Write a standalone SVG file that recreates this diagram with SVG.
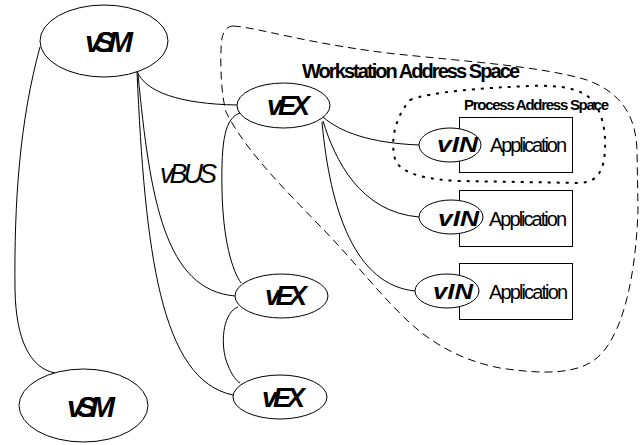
<svg xmlns="http://www.w3.org/2000/svg" width="643" height="445" viewBox="0 0 643 445">
<style>
.node{fill:#fff;stroke:#000;stroke-width:1}
.box{fill:#fff;stroke:#000;stroke-width:1}
.lbl{font-family:"Liberation Sans",Arial,sans-serif;font-weight:bold;font-style:italic;fill:#000}
.app{font-family:"Liberation Sans",Arial,sans-serif;font-size:20px;fill:#000}
.bus{font-family:"Liberation Sans",Arial,sans-serif;font-style:italic;font-size:27px;fill:#000}
.area{font-family:"Liberation Sans",Arial,sans-serif;font-weight:bold;fill:#000}
.conn path{fill:none;stroke:#000;stroke-width:1}
.ws{fill:none;stroke:#000;stroke-width:1;stroke-dasharray:8 5}
.ps{fill:none;stroke:#000;stroke-width:2;stroke-dasharray:3 6}
</style>
<rect width="643" height="445" fill="#fff"/>
<path class="ws" d="M233,26 C260,28 300,42 387,53 C470,62 540,66 587,80 C620,92 636,115 637,150 L638,210 C636,270 625,330 600,355 C580,376 540,374 500,368 C470,362 440,350 410,323 C380,295 355,262 322,228 C285,190 245,150 226,112 C220,90 220,50 222,38 C224,30 228,26 233,26 Z"/>
<path class="ps" d="M410,100 C430,92 480,88 530,86 C560,85 580,88 592,100 C602,112 606,130 605,150 C604,170 598,182 580,183 L460,181 C430,180 405,175 396,162 C390,145 393,120 410,100 Z"/>
<text class="area" x="302" y="78" font-size="20" textLength="218" lengthAdjust="spacing">Workstation Address Space</text>
<text class="area" x="464" y="110" font-size="15" textLength="145" lengthAdjust="spacing">Process Address Space</text>
<g id="connectors" class="conn">
<path d="M137,71 C145,92 180,104 237,105"/>
<path d="M138,74 C150,200 165,290 235,296"/>
<path d="M137,72 C145,250 160,380 233,395"/>
<path d="M40,47 C20,120 14,200 15,290 C16,340 30,368 55,373"/>
<path d="M240,113 C225,118 221,140 222,190 C223,240 232,270 241,283"/>
<path d="M238,307 C224,312 220,340 226,360 C230,372 235,380 240,383"/>
<path d="M323,117 C340,132 370,143 419,145"/>
<path d="M323,121 C335,160 360,212 419,217"/>
<path d="M322,122 C330,210 355,285 415,291"/>
</g>
<text class="bus" x="160" y="183" textLength="57" lengthAdjust="spacing">vBUS</text>
<g id="vSM1">
<ellipse class="node" cx="104" cy="41" rx="64" ry="36"/>
<text class="lbl" x="85" y="52" font-size="30" textLength="48" lengthAdjust="spacing">vSM</text>
</g>
<g id="vSM2">
<ellipse class="node" cx="83.5" cy="405.5" rx="64.5" ry="36.5"/>
<text class="lbl" x="67" y="417" font-size="30" textLength="48" lengthAdjust="spacing">vSM</text>
</g>
<g id="vEX1">
<ellipse class="node" cx="283.5" cy="105.5" rx="46.5" ry="22.5"/>
<text class="lbl" x="267" y="115" font-size="27" textLength="43" lengthAdjust="spacing">vEX</text>
</g>
<g id="vEX2">
<ellipse class="node" cx="281.5" cy="296" rx="46.5" ry="22"/>
<text class="lbl" x="265" y="305" font-size="27" textLength="42" lengthAdjust="spacing">vEX</text>
</g>
<g id="vEX3">
<ellipse class="node" cx="280" cy="397" rx="47" ry="22"/>
<text class="lbl" x="262" y="407" font-size="27" textLength="43" lengthAdjust="spacing">vEX</text>
</g>
<g id="app1">
<rect class="box" x="459.5" y="117.5" width="113" height="55"/>
<ellipse class="node" cx="450" cy="145" rx="31" ry="17"/>
<text class="lbl" x="437" y="152" font-size="22" textLength="41" lengthAdjust="spacingAndGlyphs">vIN</text>
<text class="app" x="490" y="152" textLength="77" lengthAdjust="spacing">Application</text>
</g>
<g id="app2">
<rect class="box" x="459.5" y="190.5" width="113" height="56"/>
<ellipse class="node" cx="451" cy="217" rx="32" ry="17"/>
<text class="lbl" x="438" y="226" font-size="22" textLength="41" lengthAdjust="spacingAndGlyphs">vIN</text>
<text class="app" x="489" y="226" textLength="78" lengthAdjust="spacing">Application</text>
</g>
<g id="app3">
<rect class="box" x="459.5" y="263.5" width="113" height="56"/>
<ellipse class="node" cx="447" cy="291" rx="32" ry="17"/>
<text class="lbl" x="433" y="299" font-size="22" textLength="40" lengthAdjust="spacingAndGlyphs">vIN</text>
<text class="app" x="489" y="299" textLength="79" lengthAdjust="spacing">Application</text>
</g>
</svg>
